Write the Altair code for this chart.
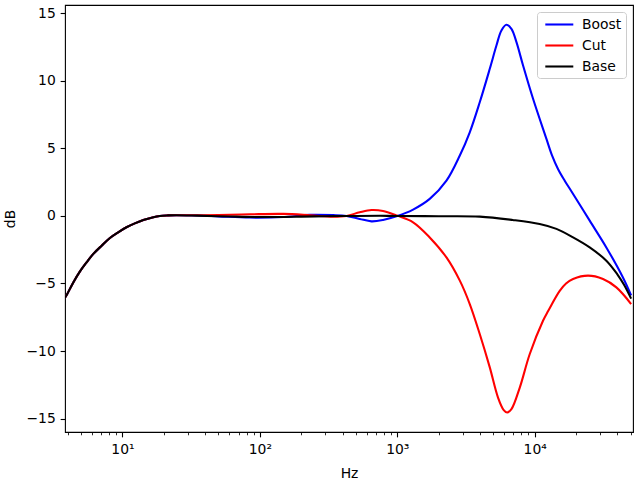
import altair as alt
import pandas as pd

# Shared low-frequency part (all three curves coincide here)
low_hz = [3.82, 3.93, 4.39, 4.91, 5.50, 6.14, 7.06, 8.11, 9.31, 10.7, 12.3, 14.2, 16.3, 18.7, 21.5, 24.8]
low_db = [-6.05, -5.85, -4.92, -4.10, -3.42, -2.81, -2.20, -1.63, -1.21, -0.84, -0.55, -0.30, -0.13, 0.0, 0.04, 0.05]

boost_hz = [35, 50, 84.5, 148, 231, 341, 427, 533, 649, 788, 986, 1303, 1722, 2279, 2851, 3368,
            3981, 4710, 5265, 5724, 6226, 6770, 7365, 8227, 9726, 12170, 13295, 14770, 16530,
            18580, 25120, 33200, 43850, 50300]
boost_db = [0.03, -0.03, -0.12, -0.08, 0.08, 0.06, 0.0, -0.22, -0.40, -0.30, -0.03, 0.47, 1.26, 2.61,
            4.47, 6.19, 8.41, 10.89, 12.61, 13.73, 14.15, 13.85, 12.86, 11.13, 8.67, 5.70, 4.54,
            3.48, 2.61, 1.79, -0.35, -2.33, -4.55, -5.88]

cut_hz = [35, 50, 84.5, 148, 231, 341, 427, 533, 649, 788, 986, 1303, 1722, 2279, 2851, 3368,
          3981, 4710, 5407, 5951, 6301, 6770, 7785, 9204, 11490, 12520, 15200, 16900, 19010, 24430,
          31400, 39270, 50300]
cut_db = [0.05, 0.07, 0.12, 0.15, 0.05, -0.06, 0.0, 0.27, 0.44, 0.37, 0.04, -0.47, -1.59, -3.07,
          -4.79, -6.52, -8.74, -11.21, -13.44, -14.37, -14.55, -14.30, -12.70, -10.22, -7.76,
          -7.04, -5.55, -5.00, -4.67, -4.42, -4.67, -5.29, -6.52]

base_hz = [35, 60, 100, 200, 300, 500, 750, 1000, 2000, 3981, 6918, 10864, 14390, 19010, 25120,
           33200, 39810, 44670, 50300]
base_db = [0.02, -0.04, -0.08, -0.05, -0.02, 0.0, 0.01, 0.0, -0.02, -0.05, -0.30, -0.60, -0.96,
           -1.59, -2.33, -3.31, -4.30, -5.10, -6.12]

series_names = ["Boost", "Cut", "Base"]
series_colors = ["blue", "red", "black"]

x_major = [10, 100, 1000, 10000]
x_minor = [4, 5, 6, 7, 8, 9, 20, 30, 40, 50, 60, 70, 80, 90, 200, 300, 400, 500, 600, 700, 800, 900,
           2000, 3000, 4000, 5000, 6000, 7000, 8000, 9000, 20000, 30000, 40000, 50000]
y_ticks = [-15, -10, -5, 0, 5, 10, 15]

rows = []
for name, hz, db in [("Boost", boost_hz, boost_db), ("Cut", cut_hz, cut_db), ("Base", base_hz, base_db)]:
    for f, d in zip(low_hz + hz, low_db + db):
        rows.append({"hz": f, "db": d, "series": name})
df = pd.DataFrame(rows)

FONT = "DejaVu Sans"
FS = 13.9

xscale = alt.Scale(type="log", domain=[3.82, 51900], nice=False)
yscale = alt.Scale(domain=[-15.99, 15.61], nice=False, zero=False)

label_expr = ("datum.value == 10 ? '10\u00b9' : datum.value == 100 ? '10\u00b2' : "
              "datum.value == 1000 ? '10\u00b3' : '10\u2074'")

lines = alt.Chart(df).mark_line(strokeWidth=2.08, clip=True, interpolate="catmull-rom").encode(
    x=alt.X("hz:Q", scale=xscale,
            axis=alt.Axis(values=x_major, labelExpr=label_expr, title="Hz", grid=False,
                          orient="bottom", domain=False, tickSize=4.86, tickWidth=1.1,
                          tickColor="black", labelColor="black", labelFontSize=FS,
                          labelFont=FONT, labelPadding=6, titleFont=FONT, titleFontSize=FS,
                          titleFontWeight="normal", titleColor="black", titlePadding=10)),
    y=alt.Y("db:Q", scale=yscale,
            axis=alt.Axis(values=y_ticks, title="dB", grid=False, domain=False, tickSize=4.86,
                          tickWidth=1.1, tickColor="black", labelColor="black",
                          labelFontSize=FS, labelFont=FONT, labelPadding=4.86,
                          titleFont=FONT, titleFontSize=FS, titleFontWeight="normal",
                          titleColor="black", titlePadding=8)),
    color=alt.Color("series:N", sort=series_names,
                    scale=alt.Scale(domain=series_names, range=series_colors),
                    legend=alt.Legend(title=None, orient="top-right", offset=7,
                                      symbolType="M-0.6,0L3.4,0", symbolStrokeWidth=2.08,
                                      symbolSize=196, labelFontSize=FS, labelFont=FONT,
                                      labelColor="black", fillColor="rgba(255,255,255,0.8)",
                                      strokeColor="#cccccc", cornerRadius=3, padding=4,
                                      rowPadding=5, labelOffset=24)),
    detail="series:N",
)

minor = alt.Chart(df).mark_point(opacity=0, size=1).encode(
    x=alt.X("hz:Q", scale=xscale,
            axis=alt.Axis(values=x_minor, labels=False, title=None, grid=False, orient="bottom",
                          domain=False, tickSize=2.78, tickWidth=0.83, tickColor="black")),
)

chart = alt.layer(minor, lines).resolve_axis(x="independent").resolve_scale(x="shared").properties(
    width=568, height=427,
    autosize=alt.AutoSizeParams(type="none"),
    padding={"left": 65, "top": 5, "right": 7, "bottom": 48},
).configure_view(stroke="black", strokeWidth=1.1)

chart.save("out.html", embed_options={"renderer": "svg", "actions": False})
